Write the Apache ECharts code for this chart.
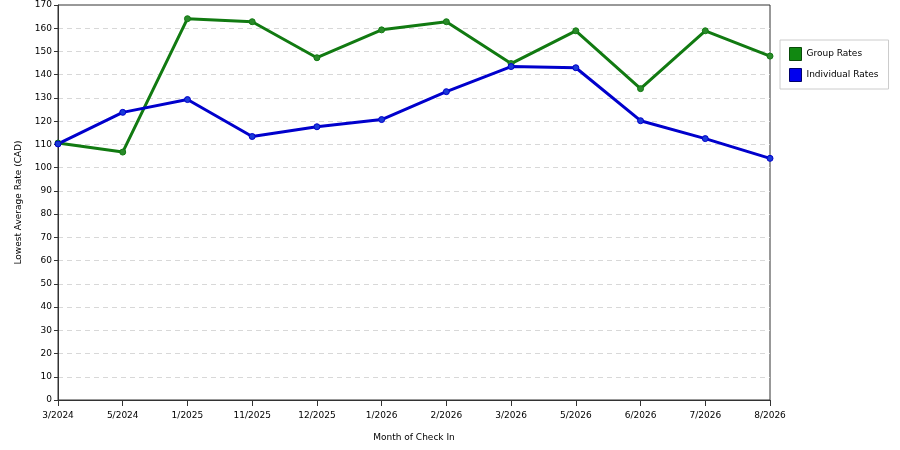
<!DOCTYPE html>
<html>
<head>
<meta charset="utf-8">
<script src="https://cdn.jsdelivr.net/npm/echarts@6/dist/echarts.min.js"></script>
<style>
html, body { margin: 0; padding: 0; background: #fff; }
#chart { width: 900px; height: 450px; }
</style>
</head>
<body>
<div id="chart"></div>
<script>
// 入住月份
var months = ['3/2024', '5/2024', '1/2025', '11/2025', '12/2025', '1/2026', '2/2026', '3/2026', '5/2026', '6/2026', '7/2026', '8/2026'];
// 团体价
var groupRates = [110.6, 106.7, 164.1, 162.8, 147.3, 159.3, 162.8, 144.8, 158.9, 134.0, 158.9, 148.0];
// 散客价
var individualRates = [110.2, 123.8, 129.3, 113.4, 117.6, 120.7, 132.7, 143.5, 143.0, 120.2, 112.5, 104.0];

var font = 'DejaVu Sans';
var myChart = echarts.init(document.getElementById('chart'));

function lineSeries(name, data, color, dot) {
    return {
        name: name,
        type: 'line',
        data: data,
        symbol: 'circle',
        symbolSize: 6,
        lineStyle: { color: color, width: 3 },
        itemStyle: { color: dot, borderColor: color, borderWidth: 1, opacity: 1 },
        emphasis: { disabled: true },
        animation: false
    };
}

myChart.setOption({
    backgroundColor: '#fff',
    animation: false,
    grid: {
        left: 58, right: 130, top: 5, bottom: 50,
        show: true, borderColor: '#333', borderWidth: 1, backgroundColor: '#fff'
    },
    legend: {
        orient: 'vertical',
        left: 780, top: 40,
        padding: [7, 10, 7, 9],
        itemGap: 7,
        itemWidth: 12, itemHeight: 13,
        borderColor: '#ccc', borderWidth: 1,
        icon: 'rect',
        textStyle: { fontFamily: font, fontSize: 9, color: '#000' },
        data: [
            { name: 'Group Rates', itemStyle: { color: '#118811', borderColor: '#0a4a0a', borderWidth: 1 } },
            { name: 'Individual Rates', itemStyle: { color: '#0000ee', borderColor: '#00006a', borderWidth: 1 } }
        ]
    },
    xAxis: {
        type: 'category',
        data: months,
        boundaryGap: false,
        name: 'Month of Check In',
        nameLocation: 'middle',
        nameGap: 33,
        nameTextStyle: { fontFamily: font, fontSize: 9, color: '#000' },
        axisLine: { lineStyle: { color: '#333' } },
        axisTick: { length: 6, lineStyle: { color: '#333' }, alignWithLabel: true },
        axisLabel: { fontFamily: font, fontSize: 9, color: '#000', margin: 11, interval: 0 },
        splitLine: { show: false }
    },
    yAxis: {
        type: 'value',
        min: 0, max: 170, interval: 10,
        name: 'Lowest Average Rate (CAD)',
        nameLocation: 'middle',
        nameGap: 35,
        nameTextStyle: { fontFamily: font, fontSize: 9, color: '#000' },
        axisLine: { show: true, lineStyle: { color: '#333' } },
        axisTick: { show: true, length: 4, lineStyle: { color: '#333' } },
        axisLabel: { fontFamily: font, fontSize: 9, color: '#000', margin: 6 },
        splitLine: { show: true, showMaxLine: false, lineStyle: { color: '#d8d8d8', type: [5, 4] } }
    },
    series: [
        lineSeries('Group Rates', groupRates, '#117a11', '#2a8a2a'),
        lineSeries('Individual Rates', individualRates, '#0000cc', '#1a3ad8')
    ]
});
</script>
</body>
</html>
